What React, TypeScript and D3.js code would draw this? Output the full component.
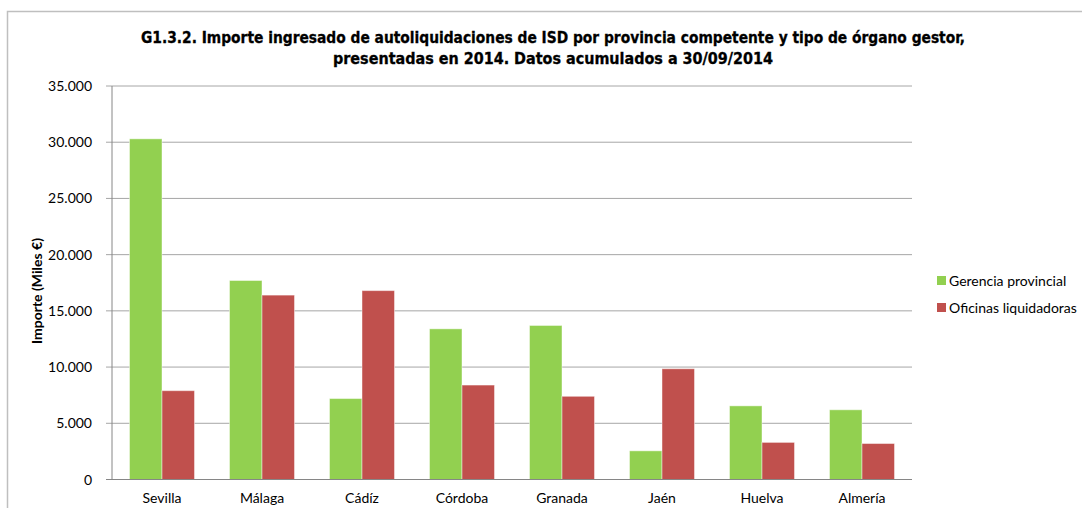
import React from "react";
import * as d3 from "d3";

const categories = ["Sevilla", "Málaga", "Cádíz", "Córdoba", "Granada", "Jaén", "Huelva", "Almería"];
const seriesNames = ["Gerencia provincial", "Oficinas liquidadoras"];
const gerencia = [30300, 17700, 7200, 13400, 13700, 2550, 6550, 6200];
const oficinas = [7900, 16400, 16800, 8400, 7400, 9850, 3300, 3200];
const yTicks = [0, 5000, 10000, 15000, 20000, 25000, 30000, 35000];
const titleLines = [
  "G1.3.2. Importe ingresado de autoliquidaciones de ISD por provincia competente y  tipo de órgano gestor,",
  "presentadas en 2014. Datos acumulados a 30/09/2014",
];
const yTitle = "Importe (Miles €)";

const colors = ["#92D050", "#C0504D"];

const W = 1082;
const H = 508;
const plot = { left: 112, right: 912, top: 86, bottom: 479.5 };
const bodyFont = "Lato, 'Open Sans', sans-serif";
const titleFont = "'Liberation Sans Narrow', 'Arial Narrow', 'DejaVu Sans Condensed', sans-serif";

const fmt = (v: number) => d3.format(",")(v).replace(/,/g, ".");

export default function App() {
  const x = d3.scaleBand<string>().domain(categories).range([plot.left, plot.right]).paddingInner(0).paddingOuter(0);
  const y = d3.scaleLinear().domain([0, 35000]).range([plot.bottom, plot.top]);
  const groupW = x.bandwidth() * 0.65;
  const x1 = d3.scaleBand<number>().domain([0, 1]).range([0, groupW]);
  const data = [gerencia, oficinas];

  return (
    <svg width={W} height={H} style={{ position: "absolute", left: 0, top: 0, background: "#fff" }}>
      {/* outer border */}
      <path d={`M7.5,${H} L7.5,11.5 L${W},11.5`} fill="none" stroke="#BFBFBF" strokeWidth={1.5} />
      {/* title */}
      {titleLines.map((t, i) => (
        <text
          key={i}
          x={553}
          y={43 + i * 21}
          textAnchor="middle"
          fontFamily={titleFont}
          fontWeight="bold"
          fontSize={16.5}
          textLength={i === 0 ? 824 : 440}
          lengthAdjust="spacingAndGlyphs"
          fill="#000"
          stroke="#000"
          strokeWidth={0.3}
        >
          {t}
        </text>
      ))}
      {/* gridlines */}
      {yTicks.map((t) => (
        <line key={t} x1={plot.left - 6} x2={plot.right} y1={y(t)} y2={y(t)} stroke={t === 0 ? "#868686" : "#A6A6A6"} strokeWidth={1} />
      ))}
      {/* bars */}
      {categories.map((c, i) => (
        <g key={c} transform={`translate(${(x(c) as number) + (x.bandwidth() - groupW) / 2},0)`}>
          {data.map((s, j) => (
            <rect
              key={j}
              x={x1(j) as number}
              y={y(s[i])}
              width={x1.bandwidth()}
              height={plot.bottom - y(s[i])}
              fill={colors[j]}
              stroke="#fff"
              strokeOpacity={0.45}
              strokeWidth={1}
            />
          ))}
        </g>
      ))}
      {/* axis lines */}
      <line x1={plot.left} x2={plot.left} y1={plot.top} y2={plot.bottom} stroke="#868686" strokeWidth={1} />
      <line x1={plot.left} x2={plot.right} y1={plot.bottom} y2={plot.bottom} stroke="#868686" strokeWidth={1} />
      {/* y tick labels */}
      {yTicks.map((t) => (
        <text key={t} x={92} y={y(t) + 5} textAnchor="end" fontFamily={bodyFont} fontSize={14} fill="#000">
          {fmt(t)}
        </text>
      ))}
      {/* y title */}
      <text
        transform={`translate(42,291) rotate(-90)`}
        textAnchor="middle"
        fontFamily={bodyFont}
        fontWeight="bold"
        fontSize={14}
        fill="#000"
      >
        {yTitle}
      </text>
      {/* x labels */}
      {categories.map((c) => (
        <text key={c} x={(x(c) as number) + x.bandwidth() / 2} y={503} textAnchor="middle" fontFamily={bodyFont} fontSize={14} fill="#000">
          {c}
        </text>
      ))}
      {/* legend */}
      {seriesNames.map((n, i) => (
        <g key={n} transform={`translate(937,${276 + i * 27})`}>
          <rect x={0} y={0} width={9} height={9} fill={colors[i]} />
          <text x={12} y={10} fontFamily={bodyFont} fontSize={14} fill="#000">
            {n}
          </text>
        </g>
      ))}
    </svg>
  );
}
